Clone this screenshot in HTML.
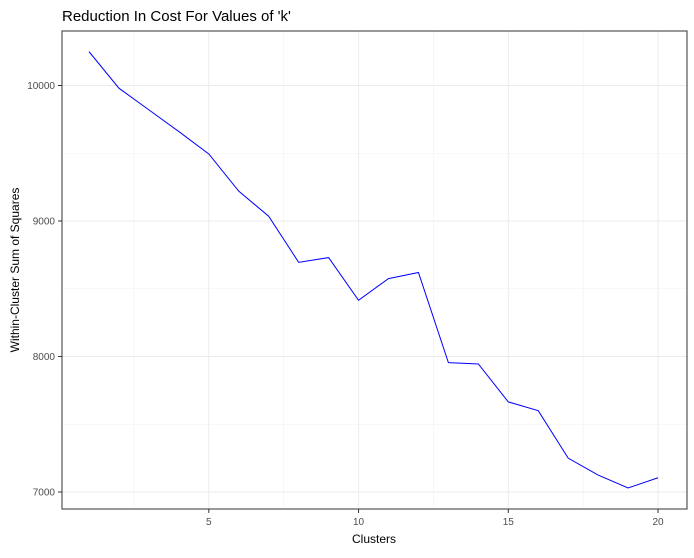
<!DOCTYPE html>
<html><head><meta charset="utf-8"><style>
body{margin:0;background:#fff;font-family:"Liberation Sans",Arial,sans-serif}
</style></head><body>
<svg id="c" width="694" height="553" xmlns="http://www.w3.org/2000/svg">
<text x="62" y="21" font-size="15" fill="#000">Reduction In Cost For Values of 'k'</text>
<g id="grid"></g>
<g id="ticks"></g>
<rect x="62" y="31" width="625" height="478" fill="none" stroke="#333" stroke-width="1"/>
<text x="374" y="543" font-size="12" text-anchor="middle">Clusters</text>
<text transform="translate(19,270) rotate(-90)" font-size="12" text-anchor="middle">Within-Cluster Sum of Squares</text>
</svg>
<script>
const clusters=[1,2,3,4,5,6,7,8,9,10,11,12,13,14,15,16,17,18,19,20];
const wss=[10250,9980,9820,9660,9495,9220,9035,8695,8730,8415,8575,8620,7955,7945,7665,7600,7250,7125,7030,7105];
const xTicks=[5,10,15,20];
const yTicks=[7000,8000,9000,10000];
const xMinor=[2.5,7.5,12.5,17.5];
const yMinor=[7500,8500,9500];
const X=v=>89+(v-1)*29.95;
const Y=v=>492-(v-7000)*0.1355;
const ns="http://www.w3.org/2000/svg";
const svg=document.getElementById('c'),grid=document.getElementById('grid'),ticks=document.getElementById('ticks');
function mk(t,a,p){const e=document.createElementNS(ns,t);for(const k in a)e.setAttribute(k,a[k]);(p||svg).appendChild(e);return e;}
xMinor.forEach(v=>{const e=mk('line',{x1:X(v),x2:X(v),y1:31,y2:509,stroke:'#f2f2f2','stroke-width':0.6},grid);});
yMinor.forEach(v=>{const e=mk('line',{x1:62,x2:687,y1:Y(v),y2:Y(v),stroke:'#f2f2f2','stroke-width':0.6},grid);});
xTicks.forEach(v=>{const e=mk('line',{x1:X(v),x2:X(v),y1:31,y2:509,stroke:'#ebebeb','stroke-width':1},grid);
const t=mk('line',{x1:X(v),x2:X(v),y1:509,y2:513,stroke:'#333'},ticks);
const l=mk('text',{x:X(v),y:525,'font-size':10,'text-anchor':'middle',fill:'#4d4d4d'},ticks);l.textContent=v;});
yTicks.forEach(v=>{const e=mk('line',{x1:62,x2:687,y1:Y(v),y2:Y(v),stroke:'#ebebeb','stroke-width':1},grid);
const t=mk('line',{x1:58,x2:62,y1:Y(v),y2:Y(v),stroke:'#333'},ticks);
const l=mk('text',{x:55,y:Y(v)+3.5,'font-size':10,'text-anchor':'end',fill:'#4d4d4d'},ticks);l.textContent=v;});
const p=mk('polyline',{points:clusters.map((c,i)=>X(c)+','+Y(wss[i])).join(' '),fill:'none',stroke:'#0000ff','stroke-width':1});


</script>
</body></html>
